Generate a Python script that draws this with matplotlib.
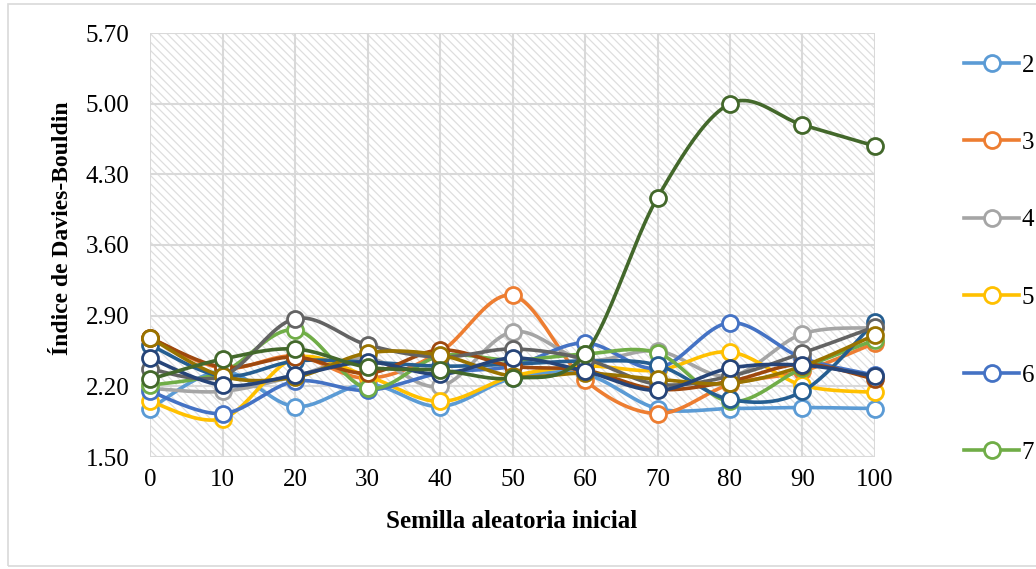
import numpy as np
import matplotlib
matplotlib.use("Agg")
import matplotlib.pyplot as plt
from matplotlib.lines import Line2D
from matplotlib.patches import Rectangle

plt.rcParams['font.family'] = ['Liberation Serif', 'DejaVu Serif']
plt.rcParams['hatch.linewidth'] = 0.9

semillas = [0, 10, 20, 30, 40, 50, 60, 70, 80, 90, 100]
clusters = ['2', '3', '4', '5', '6', '7', '8', '9', '10', '11', '12', '13']
colores = ['#5B9BD5', '#ED7D31', '#A5A5A5', '#FFC000', '#4472C4', '#70AD47',
           '#255E91', '#9E480E', '#636363', '#997300', '#264478', '#43682B']

k2 = [1.98, 2.35, 2.00, 2.22, 2.00, 2.28, 2.32, 1.98, 1.98, 1.99, 1.98]
k3 = [2.68, 2.38, 2.50, 2.28, 2.54, 3.10, 2.26, 1.93, 2.22, 2.35, 2.63]
k4 = [2.18, 2.15, 2.30, 2.48, 2.20, 2.74, 2.46, 2.55, 2.30, 2.72, 2.78]
k5 = [2.05, 1.88, 2.48, 2.30, 2.05, 2.30, 2.40, 2.36, 2.54, 2.21, 2.14]
k6 = [2.15, 1.93, 2.25, 2.16, 2.33, 2.40, 2.63, 2.38, 2.83, 2.48, 2.31]
k7 = [2.21, 2.34, 2.76, 2.18, 2.50, 2.46, 2.52, 2.53, 2.05, 2.38, 2.66]
k8 = [2.61, 2.30, 2.45, 2.44, 2.40, 2.42, 2.45, 2.41, 2.07, 2.15, 2.84]
k9 = [2.68, 2.39, 2.49, 2.33, 2.56, 2.40, 2.36, 2.17, 2.25, 2.42, 2.27]
k10 = [2.37, 2.30, 2.87, 2.61, 2.49, 2.57, 2.47, 2.22, 2.30, 2.53, 2.79]
k11 = [2.68, 2.30, 2.29, 2.53, 2.51, 2.30, 2.33, 2.27, 2.23, 2.40, 2.71]
k12 = [2.48, 2.21, 2.31, 2.44, 2.32, 2.48, 2.35, 2.16, 2.38, 2.41, 2.30]
k13 = [2.27, 2.47, 2.57, 2.39, 2.36, 2.28, 2.52, 4.07, 5.00, 4.79, 4.58]
series = [k2, k3, k4, k5, k6, k7, k8, k9, k10, k11, k12, k13]

y_ticks = [1.50, 2.20, 2.90, 3.60, 4.30, 5.00, 5.70]


def suavizar(x, y, n=25):
    # curva tipo Excel (bezier con puntos de control de los vecinos)
    pts = np.column_stack([x, y]).astype(float)
    out = []
    for i in range(len(pts) - 1):
        p0 = pts[i - 1] if i > 0 else pts[i]
        p1 = pts[i]
        p2 = pts[i + 1]
        p3 = pts[i + 2] if i + 2 < len(pts) else pts[i + 1]
        c1 = p1 + (p2 - p0) / 6
        c2 = p2 - (p3 - p1) / 6
        t = np.linspace(0, 1, n)[:, None]
        seg = (1 - t) ** 3 * p1 + 3 * (1 - t) ** 2 * t * c1 + 3 * (1 - t) * t ** 2 * c2 + t ** 3 * p2
        out.append(seg if i == 0 else seg[1:])
    return np.vstack(out)


fig = plt.figure(figsize=(10.36, 5.69), dpi=100)
fig.patches.append(Rectangle((8 / 1036, 3 / 569), 1.1, 1 - 7 / 569, transform=fig.transFigure,
                             facecolor='none', edgecolor='#D9D9D9', lw=1.2))
ax = fig.add_axes([150 / 1036, 1 - 457 / 569, 725 / 1036, 424 / 569])

ax.add_patch(Rectangle((0, 0), 1, 1, transform=ax.transAxes, facecolor='white',
                       edgecolor='#DEDEDE', hatch='\\\\\\\\', lw=0, zorder=0))

for i, (vals, col) in enumerate(zip(series, colores)):
    curva = suavizar(semillas, vals)
    ax.plot(curva[:, 0], curva[:, 1], color=col, lw=2.6, zorder=3 + i, solid_capstyle='round',
            clip_on=False)
    ax.plot(semillas, vals, ls='none', marker='o', ms=11.5, mfc='white', mec=col, mew=2.0,
            zorder=3 + i, clip_on=False)

ax.set_xlim(0, 100)
ax.set_ylim(1.5, 5.7)
ax.set_xticks(semillas)
ax.set_yticks(y_ticks)
ax.set_yticklabels([f"{v:.2f}" for v in y_ticks])
ax.grid(True, color='#D9D9D9', lw=1.5, zorder=1)
ax.set_axisbelow(True)
for s in ax.spines.values():
    s.set_visible(False)
ax.tick_params(axis='both', length=0, labelsize=18, colors='black')
ax.tick_params(axis='y', pad=15)
ax.tick_params(axis='x', pad=9)

fig.text(62 / 1036, 1 - 228 / 569, 'Índice de Davies-Bouldin', rotation=90, ha='center', va='center',
         fontsize=17, fontweight='bold')
fig.text(512 / 1036, 1 - 521 / 569, 'Semilla aleatoria inicial', ha='center', va='center',
         fontsize=18, fontweight='bold')

# la leyenda de Excel solo muestra las entradas que caben
handles = [Line2D([], [], color=c, lw=2.6, marker='o', ms=11.5, mfc='white', mec=c, mew=2.0)
           for c in colores[:6]]
fig.legend(handles, clusters[:6], loc='upper left', bbox_to_anchor=(954 / 1036, 1 - 44 / 569),
           frameon=False, fontsize=18, handlelength=2.2, handletextpad=0.1, labelspacing=2.2,
           borderaxespad=0)

fig.savefig('out.png', dpi=100)
